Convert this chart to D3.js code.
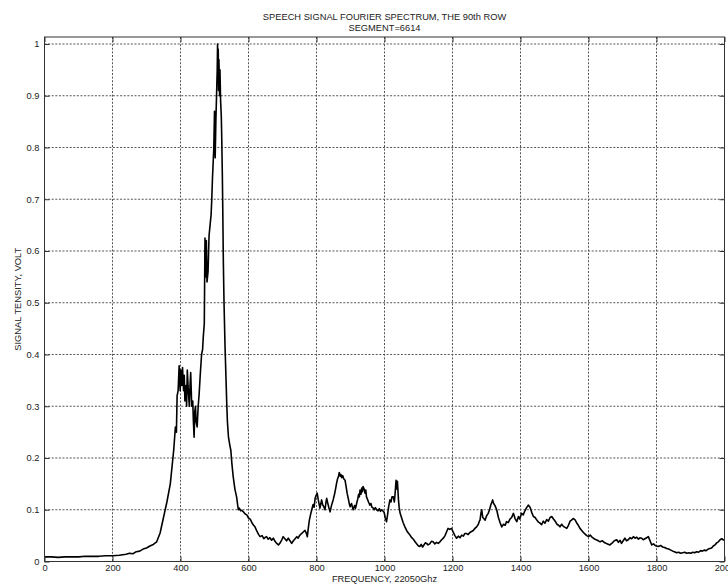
<!DOCTYPE html>
<html>
<head>
<meta charset="utf-8">
<script src="https://cdnjs.cloudflare.com/ajax/libs/d3/7.8.5/d3.min.js"></script>
<style>
  body { margin: 0; background: #fff; }
  svg text { font-family: "Liberation Sans", Arial, Helvetica, sans-serif; fill: #222; }
</style>
</head>
<body>
<div id="chart"></div>
<script>

// spectrum samples (frequency, amplitude)
var freqs = [0,20,40,60,80,100,120,140,160,180,200,220,240,250,260,270,280,290,300,310,320,330,340,350,360,370,380,385,388,390,393,396,399,401,404,406,409,411,413,416,418,420,423,426,428,430,433,436,438,440,442,444,446,449,452,455,458,462,465,467,470,472,474,476,478,481,484,487,490,492,494,496,498,500,502,504,506,508,509,510,511,512,513,515,516,518,520,521,523,524,526,528,531,534,536,538,541,545,548,551,555,560,565,570,573,577,580,585,590,595,600,605,610,615,619,625,630,634,640,645,650,653,658,663,668,673,678,683,688,693,698,702,707,712,717,722,727,732,737,742,746,750,756,761,766,770,773,776,779,783,786,790,793,796,799,802,805,808,810,813,815,818,822,825,828,830,833,836,840,844,849,853,856,859,862,865,867,870,872,874,877,880,884,887,890,894,897,899,903,906,908,912,915,918,921,924,926,928,931,933,935,937,940,943,945,947,950,953,957,960,963,967,970,973,977,981,985,988,992,996,999,1002,1006,1009,1012,1016,1019,1022,1026,1029,1031,1034,1036,1038,1041,1043,1046,1050,1055,1060,1065,1070,1075,1080,1085,1090,1095,1100,1104,1108,1112,1116,1120,1124,1128,1133,1138,1143,1148,1153,1158,1163,1168,1173,1178,1183,1187,1192,1197,1202,1207,1212,1217,1222,1227,1232,1236,1241,1246,1251,1256,1261,1266,1271,1276,1279,1281,1284,1286,1289,1292,1296,1300,1305,1309,1313,1316,1318,1321,1325,1330,1335,1340,1345,1350,1355,1359,1364,1369,1374,1379,1384,1389,1394,1398,1403,1408,1413,1418,1423,1428,1433,1438,1443,1448,1453,1458,1462,1467,1472,1477,1482,1487,1492,1497,1502,1507,1512,1516,1521,1526,1531,1536,1541,1546,1550,1555,1560,1565,1570,1575,1580,1585,1590,1595,1600,1605,1612,1619,1626,1634,1641,1648,1656,1663,1670,1676,1683,1688,1693,1697,1702,1707,1712,1717,1722,1727,1732,1737,1742,1747,1751,1756,1761,1766,1771,1776,1781,1786,1791,1796,1800,1805,1812,1818,1824,1830,1836,1842,1848,1853,1859,1865,1871,1877,1883,1889,1895,1901,1907,1912,1918,1924,1930,1935,1940,1946,1952,1957,1962,1967,1972,1977,1982,1987,1992,1996,2000];

var amps = [0.009,0.009,0.008,0.009,0.009,0.009,0.010,0.010,0.010,0.011,0.011,0.012,0.014,0.016,0.015,0.019,0.020,0.024,0.026,0.030,0.033,0.038,0.055,0.085,0.115,0.150,0.215,0.260,0.250,0.320,0.330,0.378,0.330,0.370,0.340,0.375,0.330,0.360,0.310,0.340,0.300,0.370,0.330,0.300,0.340,0.365,0.300,0.310,0.270,0.240,0.290,0.300,0.270,0.260,0.300,0.325,0.360,0.400,0.410,0.434,0.460,0.625,0.550,0.620,0.540,0.560,0.630,0.650,0.670,0.700,0.740,0.770,0.800,0.870,0.780,0.850,0.900,0.950,1.000,0.930,0.990,0.910,0.970,0.900,0.950,0.890,0.860,0.830,0.750,0.700,0.580,0.500,0.415,0.350,0.306,0.270,0.241,0.225,0.215,0.190,0.164,0.140,0.125,0.100,0.103,0.098,0.099,0.096,0.092,0.090,0.084,0.082,0.075,0.070,0.067,0.058,0.052,0.048,0.050,0.044,0.047,0.048,0.043,0.046,0.041,0.045,0.039,0.035,0.032,0.036,0.042,0.048,0.044,0.040,0.045,0.040,0.035,0.040,0.044,0.048,0.045,0.050,0.054,0.057,0.060,0.055,0.048,0.065,0.080,0.092,0.100,0.110,0.105,0.122,0.128,0.132,0.120,0.110,0.103,0.112,0.119,0.110,0.105,0.100,0.115,0.122,0.113,0.105,0.096,0.108,0.119,0.130,0.140,0.151,0.160,0.165,0.172,0.165,0.168,0.162,0.166,0.160,0.157,0.145,0.132,0.120,0.110,0.106,0.112,0.104,0.100,0.108,0.103,0.112,0.120,0.130,0.125,0.138,0.130,0.142,0.135,0.145,0.140,0.132,0.138,0.125,0.120,0.115,0.109,0.112,0.105,0.103,0.100,0.104,0.100,0.098,0.102,0.097,0.100,0.097,0.095,0.085,0.077,0.090,0.105,0.119,0.115,0.125,0.125,0.115,0.130,0.157,0.140,0.155,0.120,0.105,0.093,0.085,0.075,0.067,0.060,0.055,0.051,0.046,0.043,0.038,0.034,0.030,0.029,0.033,0.028,0.032,0.036,0.035,0.032,0.034,0.039,0.038,0.034,0.037,0.035,0.038,0.042,0.045,0.050,0.058,0.064,0.062,0.064,0.057,0.050,0.045,0.049,0.046,0.051,0.049,0.054,0.054,0.052,0.056,0.058,0.060,0.064,0.067,0.072,0.078,0.080,0.095,0.100,0.085,0.083,0.080,0.088,0.093,0.100,0.110,0.115,0.119,0.112,0.108,0.100,0.085,0.075,0.067,0.072,0.070,0.077,0.075,0.082,0.085,0.093,0.083,0.077,0.087,0.082,0.093,0.090,0.098,0.104,0.109,0.105,0.095,0.087,0.085,0.080,0.076,0.074,0.071,0.078,0.074,0.081,0.078,0.085,0.087,0.082,0.078,0.072,0.070,0.067,0.072,0.068,0.066,0.064,0.070,0.078,0.080,0.083,0.081,0.075,0.070,0.064,0.060,0.056,0.053,0.050,0.048,0.051,0.046,0.043,0.041,0.038,0.040,0.036,0.034,0.032,0.036,0.040,0.042,0.037,0.041,0.035,0.040,0.045,0.040,0.042,0.046,0.044,0.048,0.045,0.047,0.043,0.046,0.045,0.042,0.044,0.046,0.048,0.040,0.032,0.034,0.031,0.030,0.029,0.031,0.028,0.027,0.025,0.024,0.022,0.020,0.019,0.017,0.018,0.016,0.017,0.018,0.016,0.017,0.016,0.018,0.017,0.019,0.018,0.021,0.020,0.022,0.021,0.024,0.025,0.026,0.030,0.032,0.036,0.038,0.042,0.044,0.042,0.041];

var xTicks = [0,200,400,600,800,1000,1200,1400,1600,1800,2000];
var yTicks = [0,0.1,0.2,0.3,0.4,0.5,0.6,0.7,0.8,0.9,1];

var titleLines = ["SPEECH SIGNAL FOURIER SPECTRUM, THE 90th ROW", "SEGMENT=6614"];
var xLabel = "FREQUENCY, 22050Ghz";
var yLabel = "SIGNAL TENSITY, VOLT";


SpectrumChart = function(_parentElement, _freqs, _amps){
    this.parentElement = _parentElement;
    this.data = _freqs.map(function(f, i){ return {f: f, v: _amps[i]}; });
    this.initVis();
}

SpectrumChart.prototype.initVis = function(){
    var vis = this;

    vis.margin = {top: 37, right: 3.5, bottom: 23.5, left: 44.5};
    vis.width = 728 - vis.margin.left - vis.margin.right;
    vis.height = 585 - vis.margin.top - vis.margin.bottom;

    vis.svg = d3.select("#" + vis.parentElement).append("svg")
        .attr("width", 728)
        .attr("height", 585)
      .append("g")
        .attr("transform", "translate(" + vis.margin.left + "," + vis.margin.top + ")");

    // scales
    vis.x = d3.scaleLinear().domain([0, 2000]).range([0, vis.width]);
    vis.y = d3.scaleLinear().domain([0, 1.0135]).range([vis.height, 0]);

    // dotted grid
    vis.svg.append("g").selectAll("line.vgrid")
        .data(xTicks)
      .enter().append("line")
        .attr("x1", d => vis.x(d)).attr("x2", d => vis.x(d))
        .attr("y1", 0).attr("y2", vis.height)
        .attr("stroke", "#555").attr("stroke-dasharray", "2,1.6");

    vis.svg.append("g").selectAll("line.hgrid")
        .data(yTicks)
      .enter().append("line")
        .attr("x1", 0).attr("x2", vis.width)
        .attr("y1", d => vis.y(d)).attr("y2", d => vis.y(d))
        .attr("stroke", "#555").attr("stroke-dasharray", "2,1.6");

    // spectrum line
    vis.svg.append("clipPath").attr("id", "plotClip")
      .append("rect").attr("width", vis.width).attr("height", vis.height);

    vis.line = d3.line()
        .x(d => vis.x(d.f))
        .y(d => vis.y(d.v));

    vis.svg.append("path")
        .datum(vis.data)
        .attr("clip-path", "url(#plotClip)")
        .attr("fill", "none")
        .attr("stroke", "#000")
        .attr("stroke-width", 1.6)
        .attr("stroke-linejoin", "round")
        .attr("d", vis.line);

    // axes, ticks pointing inward
    var fmt = d => String(d);
    vis.svg.append("g")
        .attr("class", "axis")
        .attr("transform", "translate(0," + vis.height + ")")
        .call(d3.axisBottom(vis.x).tickValues(xTicks).tickFormat(fmt).tickSize(-5).tickPadding(3));
    vis.svg.append("g")
        .attr("class", "axis")
        .call(d3.axisTop(vis.x).tickValues(xTicks).tickFormat("").tickSize(-5));
    vis.svg.append("g")
        .attr("class", "axis")
        .call(d3.axisLeft(vis.y).tickValues(yTicks).tickFormat(fmt).tickSize(-5).tickPadding(5));
    vis.svg.append("g")
        .attr("class", "axis")
        .attr("transform", "translate(" + vis.width + ",0)")
        .call(d3.axisRight(vis.y).tickValues(yTicks).tickFormat("").tickSize(-5));

    vis.svg.selectAll(".axis .domain").remove();
    vis.svg.selectAll(".axis line").attr("stroke", "#333");
    vis.svg.selectAll(".axis text")
        .attr("font-size", "9.3px")
        .attr("font-family", "'Liberation Sans', Arial, sans-serif")
        .attr("fill", "#222");

    // frame
    vis.svg.append("rect")
        .attr("width", vis.width).attr("height", vis.height)
        .attr("fill", "none").attr("stroke", "#333").attr("stroke-width", 1);

    // titles
    vis.svg.selectAll("text.title")
        .data(titleLines)
      .enter().append("text")
        .attr("class", "title")
        .attr("x", vis.width / 2)
        .attr("y", (d, i) => -17 + i * 10.5)
        .attr("text-anchor", "middle")
        .attr("font-size", "9.3px")
        .text(d => d);

    vis.svg.append("text")
        .attr("x", vis.width / 2)
        .attr("y", vis.height + 20.5)
        .attr("text-anchor", "middle")
        .attr("font-size", "9.3px")
        .text(xLabel);

    vis.svg.append("text")
        .attr("transform", "translate(" + (-24) + "," + (vis.height / 2) + ") rotate(-90)")
        .attr("text-anchor", "middle")
        .attr("font-size", "9.3px")
        .text(yLabel);
}

var chart = new SpectrumChart("chart", freqs, amps);

</script>
</body>
</html>
